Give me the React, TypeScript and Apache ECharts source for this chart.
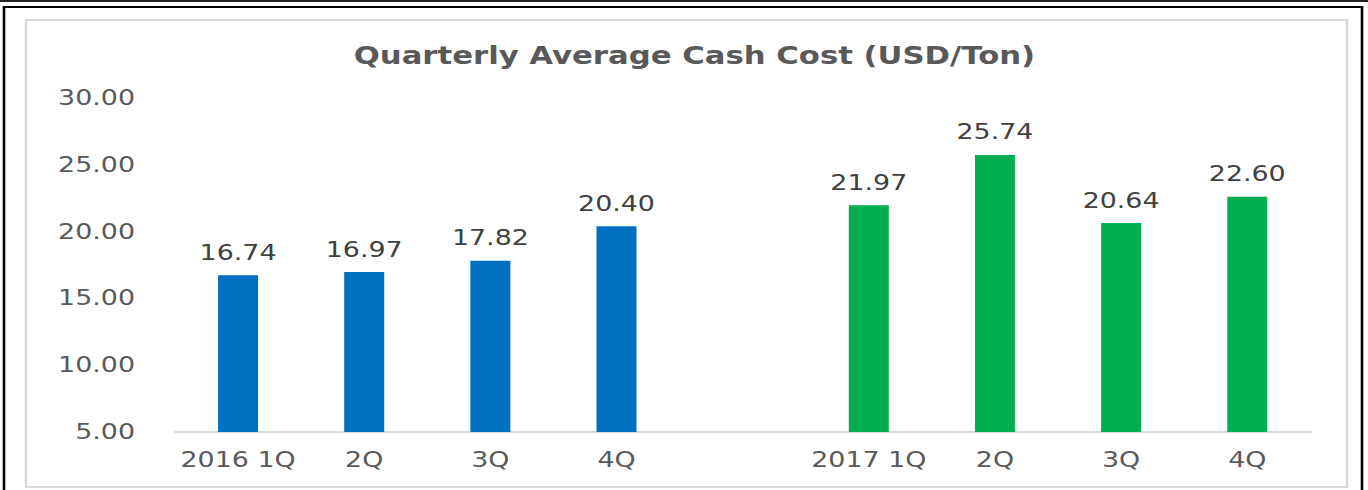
import React, { useEffect, useRef } from "react";
import * as echarts from "echarts";

const categories = ["2016 1Q", "2Q", "3Q", "4Q", "", "2017 1Q", "2Q", "3Q", "4Q"];
const values2016 = [16.74, 16.97, 17.82, 20.4, null, null, null, null, null];
const values2017 = [null, null, null, null, null, 21.97, 25.74, 20.64, 22.6];
const yTicks = { min: 5, max: 30, interval: 5 };
const titleText = "Quarterly Average Cash Cost (USD/Ton)";

// The reference text is horizontally stretched; render narrower and stretch the whole chart.
const S = 1.28;
const W = 1368 / S;

export default function App() {
  const ref = useRef<HTMLDivElement>(null);
  useEffect(() => {
    document.body.style.margin = "0";
    const chart = echarts.init(ref.current!, null, { renderer: "svg" });
    const font = "DejaVu Sans";
    const labelCfg = {
      show: true,
      position: "top",
      distance: 12,
      color: "#404040",
      fontFamily: font,
      fontSize: 21,
      formatter: (p: any) => (p.value == null ? "" : Number(p.value).toFixed(2)),
    };
    chart.setOption({
      animation: false,
      backgroundColor: "#ffffff",
      title: {
        text: titleText,
        left: 688 / S,
        textAlign: "center",
        top: 38,
        textStyle: { color: "#595959", fontFamily: font, fontWeight: "bold", fontSize: 24 },
      },
      grid: { left: 175 / S, right: 58 / S, top: 98, bottom: 58, containLabel: false },
      xAxis: {
        type: "category",
        data: categories,
        axisLine: { show: true, lineStyle: { color: "#d9d9d9", width: 2 } },
        axisTick: { show: false },
        axisLabel: { color: "#595959", fontFamily: font, fontSize: 21, margin: 18, interval: 0 },
      },
      yAxis: {
        type: "value",
        min: yTicks.min,
        max: yTicks.max,
        interval: yTicks.interval,
        axisLine: { show: false },
        axisTick: { show: false },
        splitLine: { show: false },
        axisLabel: {
          color: "#595959",
          fontFamily: font,
          fontSize: 21,
          margin: 40 / S,
          formatter: (v: number) => v.toFixed(2),
        },
      },
      series: [
        {
          type: "bar",
          data: values2016,
          barWidth: 40 / S,
          barGap: "-100%",
          itemStyle: { color: "#0070C0" },
          label: labelCfg,
        },
        {
          type: "bar",
          data: values2017,
          barWidth: 40 / S,
          itemStyle: { color: "#00B050" },
          label: labelCfg,
        },
      ],
      graphic: [
        { type: "rect", shape: { x: 0, y: 0, width: W, height: 2 }, style: { fill: "#222" } },
        {
          type: "rect",
          shape: { x: 4 / S, y: 7, width: 1358 / S, height: 500 },
          style: { fill: "none", stroke: "#000", lineWidth: 2 },
        },
        {
          type: "rect",
          shape: { x: 26 / S, y: 20, width: 1321 / S, height: 467 },
          style: { fill: "none", stroke: "#d9d9d9", lineWidth: 2 },
        },
      ],
    });
    return () => chart.dispose();
  }, []);
  return (
    <div style={{ width: 1368, height: 490, overflow: "hidden" }}>
      <div
        ref={ref}
        style={{ width: W, height: 490, transform: `scaleX(${S})`, transformOrigin: "0 0" }}
      />
    </div>
  );
}
